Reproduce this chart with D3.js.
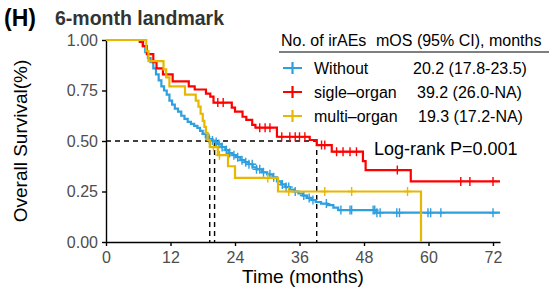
<!DOCTYPE html>
<html>
<head>
<meta charset="utf-8">
<script src="https://cdn.jsdelivr.net/npm/d3@7"></script>
<style>
  body { margin: 0; background: #fff; }
  svg text { font-family: "Liberation Sans", Arial, sans-serif; }
</style>
</head>
<body>
<div id="chart"></div>
<script>
// step data: time (months) of each drop and survival after it
var withoutTimes = [6.3, 6.8, 7.3, 7.8, 8.3, 8.8, 9.3, 9.8, 10.3, 10.8, 11.3, 11.8, 12.3, 12.8, 13.4, 14.0, 14.6, 15.2, 15.8, 16.4, 17.0, 17.5, 18.0, 18.6, 19.2, 19.8, 20.2, 20.8, 21.5, 22.2, 22.8, 23.5, 24.2, 25.0, 25.8, 26.5, 27.3, 28.0, 29.0, 30.0, 31.0, 31.8, 32.6, 33.4, 34.2, 35.0, 35.8, 36.6, 37.4, 38.2, 39.0, 40.0, 41.2, 42.3, 43.2, 50.3];
var withoutSurv  = [0.99, 0.97, 0.94, 0.91, 0.89, 0.86, 0.83, 0.80, 0.77, 0.75, 0.73, 0.70, 0.68, 0.66, 0.645, 0.625, 0.61, 0.595, 0.585, 0.575, 0.565, 0.55, 0.535, 0.52, 0.51, 0.502, 0.495, 0.485, 0.47, 0.455, 0.44, 0.43, 0.42, 0.405, 0.395, 0.385, 0.37, 0.36, 0.345, 0.335, 0.32, 0.30, 0.285, 0.272, 0.26, 0.25, 0.24, 0.23, 0.218, 0.208, 0.198, 0.19, 0.183, 0.17, 0.158, 0.145];
var withoutCensor = [18.5, 19.2, 19.8, 20.5, 21.0, 21.6, 22.4, 23.0, 23.8, 24.5, 25.3, 26.0, 26.6, 27.2, 28.0, 28.6, 29.3, 30.5, 31.2, 32.8, 33.5, 34.0, 35.2, 36.8, 37.8, 38.5, 41.0, 43.7, 45.4, 45.7, 49.7, 50.0, 50.4, 51.0, 54.1, 54.6, 59.9, 60.4, 62.3, 72.0];

var sigleTimes = [6.3, 6.9, 7.6, 8.8, 9.4, 10.6, 12.4, 15.4, 16.5, 18.6, 19.4, 20.0, 23.4, 24.0, 25.4, 26.1, 27.2, 27.8, 31.8, 37.9, 39.2, 42.0, 47.8, 48.3, 56.7];
var sigleSurv  = [0.99, 0.97, 0.93, 0.89, 0.86, 0.83, 0.795, 0.77, 0.755, 0.735, 0.72, 0.69, 0.665, 0.645, 0.62, 0.605, 0.58, 0.566, 0.521, 0.505, 0.48, 0.447, 0.40, 0.356, 0.30];
var sigleCensor = [20.8, 21.8, 28.6, 29.6, 30.5, 32.7, 34.2, 35.2, 36.0, 37.0, 40.1, 40.7, 42.9, 44.1, 45.4, 46.6, 54.2, 66.0, 67.7, 72.0];

var multiTimes = [7.5, 7.9, 10.7, 11.2, 11.8, 14.7, 16.7, 17.2, 17.6, 18.0, 18.3, 18.6, 18.9, 19.3, 20.8, 22.7, 24.0, 32.0, 58.6];
var multiSurv  = [0.945, 0.895, 0.855, 0.815, 0.77, 0.73, 0.70, 0.67, 0.635, 0.60, 0.57, 0.54, 0.505, 0.47, 0.43, 0.375, 0.317, 0.25, 0];
var multiCensor = [20.0, 21.1, 30.1, 34.0, 40.7, 45.7, 56.1];

var groupNames = ["Without", "sigle\u2013organ", "multi\u2013organ"];
var groupMOS   = ["20.2 (17.8-23.5)", "39.2 (26.0-NA)", "19.3 (17.2-NA)"];
var medians    = [20.2, 39.2, 19.3];
var endTimes   = [73.3, 73.3, 58.6];
var colors     = ["#2E9FDF", "#FF0000", "#E7B800"];
var xTicks = [0, 12, 24, 36, 48, 60, 72];
var yTicks = [0, 0.25, 0.5, 0.75, 1];

var groups = [
  {times: withoutTimes, surv: withoutSurv, censor: withoutCensor},
  {times: sigleTimes, surv: sigleSurv, censor: sigleCensor},
  {times: multiTimes, surv: multiSurv, censor: multiCensor}
];

var W = 552, H = 293;
var svg = d3.select("#chart").append("svg")
    .attr("width", W).attr("height", H);

var x = d3.scaleLinear().domain([0, 73.3]).range([106, 500]);
var y = d3.scaleLinear().domain([0, 1]).range([242, 40]);

// axes
var xAxis = svg.append("g")
    .attr("transform", "translate(0," + y(0) + ")")
    .call(d3.axisBottom(x).tickValues(xTicks).tickSize(4).tickSizeOuter(0));
var yAxis = svg.append("g")
    .attr("transform", "translate(" + x(0) + ",0)")
    .call(d3.axisLeft(y).tickValues(yTicks).tickFormat(d3.format(".2f")).tickSize(4).tickSizeOuter(0));
[xAxis, yAxis].forEach(function(a) {
  a.select(".domain").attr("stroke", "#000").attr("stroke-width", 1.4);
  a.selectAll(".tick line").attr("stroke", "#000").attr("stroke-width", 1.4);
  a.selectAll(".tick text").attr("fill", "#4d4d4d").style("font-size", "16px")
    .style("font-family", "Liberation Sans, Arial, sans-serif");
});
xAxis.selectAll(".tick text").attr("dy", "0.85em");
yAxis.selectAll(".tick text").attr("dx", "-1px");

// survival at t
function survAt(g, t) {
  var s = 1;
  for (var i = 0; i < g.times.length; i++) {
    if (g.times[i] <= t) s = g.surv[i];
  }
  return s;
}

// median dashed lines
var maxMed = d3.max(medians);
svg.append("line")
    .attr("x1", x(0)).attr("x2", x(maxMed))
    .attr("y1", y(0.5)).attr("y2", y(0.5))
    .attr("stroke", "#000").attr("stroke-width", 1.4).attr("stroke-dasharray", "5,4");
svg.selectAll(".med")
    .data(medians).enter().append("line")
    .attr("x1", function(d) { return x(d); }).attr("x2", function(d) { return x(d); })
    .attr("y1", y(0.5)).attr("y2", y(0))
    .attr("stroke", "#000").attr("stroke-width", 1.4).attr("stroke-dasharray", "5,4");

// curves
groups.forEach(function(g, i) {
  var pts = [[0, 1]];
  var s = 1;
  g.times.forEach(function(t, j) {
    pts.push([t, s]);
    s = g.surv[j];
    pts.push([t, s]);
  });
  pts.push([endTimes[i], s]);
  var line = d3.line().x(function(d) { return x(d[0]); }).y(function(d) { return y(d[1]); });
  svg.append("path")
      .attr("d", line(pts))
      .attr("fill", "none")
      .attr("stroke", colors[i])
      .attr("stroke-width", 2.2);

  svg.selectAll(".cens" + i)
      .data(g.censor).enter().append("path")
      .attr("d", function(t) {
        var cx = x(t), cy = y(survAt(g, t));
        return "M" + cx + "," + (cy - 4.5) + "V" + (cy + 4.5) + "M" + (cx - 4) + "," + cy + "H" + (cx + 4);
      })
      .attr("stroke", colors[i])
      .attr("stroke-width", 1.4)
      .attr("fill", "none");
});

// titles
svg.append("text").attr("x", 4).attr("y", 26)
    .style("font-size", "23px").style("font-weight", "bold").attr("fill", "#000")
    .text("(H)");
svg.append("text").attr("x", 55).attr("y", 25)
    .style("font-size", "19.5px").style("font-weight", "bold").attr("fill", "#333")
    .text("6-month landmark");

svg.append("text")
    .attr("transform", "translate(27," + (y(0.5)) + ") rotate(-90)")
    .attr("text-anchor", "middle")
    .style("font-size", "19px").attr("fill", "#000")
    .text("Overall Survival(%)");
svg.append("text")
    .attr("x", 303).attr("y", 283)
    .attr("text-anchor", "middle")
    .style("font-size", "19px").attr("fill", "#000")
    .text("Time (months)");

// legend
svg.append("text").attr("x", 281).attr("y", 46)
    .style("font-size", "16px").attr("fill", "#000")
    .text("No. of irAEs");
svg.append("text").attr("x", 376).attr("y", 46)
    .style("font-size", "16px").attr("fill", "#000")
    .text("mOS (95% CI), months");
svg.append("line").attr("x1", 279).attr("x2", 549).attr("y1", 52).attr("y2", 52)
    .attr("stroke", "#000").attr("stroke-width", 1.2);

var legendY = [68, 92, 116];
var valueX = [413, 417, 418];
groupNames.forEach(function(name, i) {
  var ly = legendY[i];
  svg.append("path")
      .attr("d", "M283," + ly + "H302M292.5," + (ly - 6) + "V" + (ly + 6))
      .attr("stroke", colors[i]).attr("stroke-width", 2.2).attr("fill", "none");
  svg.append("text").attr("x", 314).attr("y", ly + 5.5)
      .style("font-size", "16px").attr("fill", "#000").text(name);
  svg.append("text").attr("x", valueX[i]).attr("y", ly + 5.5)
      .style("font-size", "16px").attr("fill", "#000").text(groupMOS[i]);
});

svg.append("text").attr("x", 374).attr("y", 155)
    .style("font-size", "18px").attr("fill", "#000")
    .text("Log-rank P=0.001");
</script>
</body>
</html>
